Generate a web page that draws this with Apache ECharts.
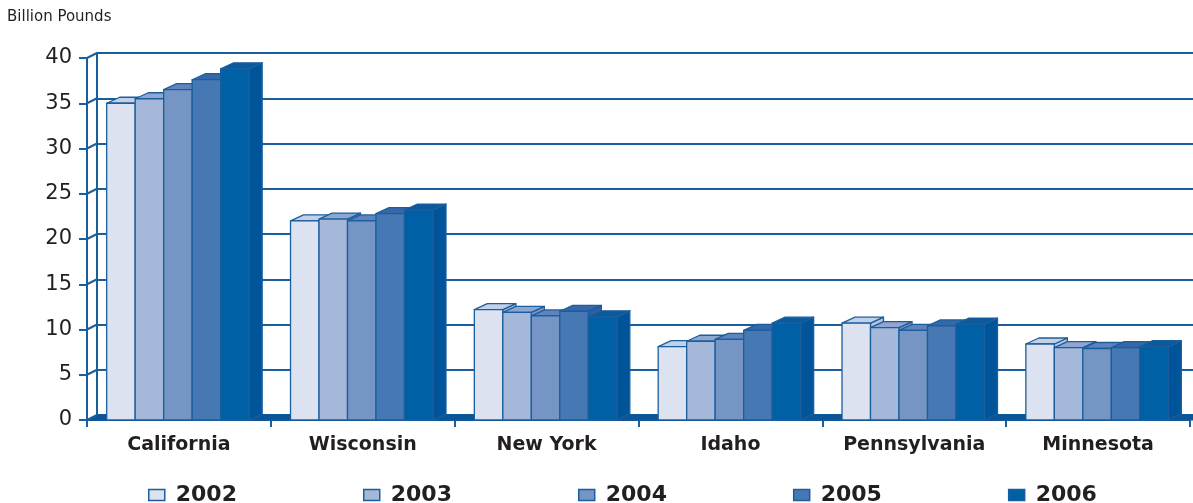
<!DOCTYPE html>
<html>
<head>
<meta charset="utf-8">
<script src="https://cdn.jsdelivr.net/npm/echarts@6/dist/echarts.min.js"></script>
<style>
html,body{margin:0;padding:0;background:#fff;}
#chart{width:1193px;height:503px;}
</style>
</head>
<body>
<div id="chart"></div>
<script>
var categories = ['California', 'Wisconsin', 'New York', 'Idaho', 'Pennsylvania', 'Minnesota'];
var years = ['2002', '2003', '2004', '2005', '2006'];
var y2002 = [35.0, 22.0, 12.2, 8.1, 10.7, 8.4];
var y2003 = [35.5, 22.2, 11.9, 8.7, 10.2, 8.0];
var y2004 = [36.5, 22.0, 11.5, 8.9, 9.9, 7.9];
var y2005 = [37.6, 22.8, 12.0, 9.9, 10.4, 8.0];
var y2006 = [38.8, 23.2, 11.4, 10.7, 10.6, 8.1];
var yTicks = [0, 5, 10, 15, 20, 25, 30, 35, 40];

var seriesValues = [y2002, y2003, y2004, y2005, y2006];
var frontColors = ['#dce2ef', '#a5b8da', '#7596c4', '#4679b3', '#0060a5'];
var topColors = ['#c3d0e7', '#8ea6d0', '#5f84bb', '#3468a8', '#0a5a9c'];
var sideColors = ['#b3c3e0', '#8099c8', '#5578b0', '#2f5f9c', '#00549a'];
var lineBlue = '#1b5e9e';
var textColor = '#231f20';
var FONT = 'DejaVu Sans';

var DX = 13, DY = -6;     // bar depth
var WX = 10, WY = -5;     // wall depth

function barRender(k) {
  return function (params, api) {
    var ci = api.value(0), v = api.value(1);
    var top = api.coord([ci, v]);
    var base = api.coord([ci, 0]);
    var cw = api.size([1, 0])[0];
    var bw = cw * 0.155;
    var x0 = top[0] - 2.5 * bw - 1 + k * bw;
    var x1 = x0 + bw;
    var yt = top[1], yb = base[1];
    var st = {stroke: lineBlue, lineWidth: 1.3, lineJoin: 'round'};
    return {
      type: 'group',
      children: [
        {type: 'polygon', shape: {points: [[x1, yt], [x1 + DX, yt + DY], [x1 + DX, yb + DY], [x1, yb]]},
          style: Object.assign({fill: sideColors[k]}, st)},
        {type: 'polygon', shape: {points: [[x0, yt], [x0 + DX, yt + DY], [x1 + DX, yt + DY], [x1, yt]]},
          style: Object.assign({fill: topColors[k]}, st)},
        {type: 'rect', shape: {x: x0, y: yt, width: bw, height: yb - yt},
          style: Object.assign({fill: frontColors[k]}, st)}
      ]
    };
  };
}

var series = [];
// floor
series.push({
  type: 'custom', xAxisIndex: 0, yAxisIndex: 0, silent: true, z: 1,
  data: [[0, 0]],
  renderItem: function (params, api) {
    var cs = params.coordSys;
    var y = api.coord([0, 0])[1];
    var xa = cs.x, xb = cs.x + cs.width + 3;
    return {
      type: 'polygon',
      shape: {points: [[xa, y], [xa + WX, y + WY], [xb, y + WY], [xb, y]]},
      style: {fill: '#0b5597', stroke: '#0b5597', lineWidth: 1}
    };
  }
});
// side wall diagonals
series.push({
  type: 'custom', xAxisIndex: 0, yAxisIndex: 0, silent: true, z: 1,
  data: yTicks.map(function (t) { return [0, t]; }),
  renderItem: function (params, api) {
    var cs = params.coordSys;
    var y = api.coord([0, api.value(1)])[1];
    return {
      type: 'line',
      shape: {x1: cs.x, y1: y, x2: cs.x + WX, y2: y + WY},
      style: {stroke: lineBlue, lineWidth: 2}
    };
  }
});
years.forEach(function (yr, k) {
  series.push({
    name: yr,
    type: 'custom',
    xAxisIndex: 0, yAxisIndex: 0,
    z: 3 + k,
    itemStyle: {color: frontColors[k], borderColor: lineBlue, borderWidth: 1.5},
    data: seriesValues[k].map(function (v, i) { return [i, v]; }),
    renderItem: barRender(k)
  });
});

var chart = echarts.init(document.getElementById('chart'));
chart.setOption({
  animation: false,
  backgroundColor: '#ffffff',
  title: {
    text: 'Billion Pounds', left: 2, top: 5,
    textStyle: {fontFamily: FONT, fontSize: 15, fontWeight: 'normal', color: textColor}
  },
  legend: {
    left: 143, top: 479,
    itemWidth: 16, itemHeight: 11, itemGap: 126,
    icon: 'rect',
    textStyle: {fontFamily: FONT, fontSize: 22, fontWeight: 'bold', color: textColor, padding: [0, 0, 0, 6]},
    data: years.map(function (yr, k) {
      return {name: yr, itemStyle: {color: frontColors[k], borderColor: lineBlue, borderWidth: 1.5}};
    })
  },
  grid: [
    {left: 87, right: 3, top: 58, bottom: 83},
    {left: 97, right: 0, top: 53, bottom: 88}
  ],
  xAxis: [
    {
      type: 'category', gridIndex: 0, data: categories,
      axisLine: {show: true, lineStyle: {color: lineBlue, width: 2}},
      axisTick: {show: true, interval: 0, length: 7, lineStyle: {color: lineBlue, width: 2}},
      axisLabel: {interval: 0, hideOverlap: false, fontFamily: FONT, fontSize: 19, fontWeight: 'bold', color: textColor, margin: 16},
      splitLine: {show: false}
    },
    {
      type: 'category', gridIndex: 1, data: categories, show: false
    }
  ],
  yAxis: [
    {
      type: 'value', gridIndex: 0, min: 0, max: 40, interval: 5,
      axisLine: {show: true, lineStyle: {color: lineBlue, width: 2}},
      axisTick: {show: true, length: 8, lineStyle: {color: lineBlue, width: 2}},
      axisLabel: {fontFamily: FONT, fontSize: 21, color: textColor, margin: 15},
      splitLine: {show: false}
    },
    {
      type: 'value', gridIndex: 1, min: 0, max: 40, interval: 5,
      axisLine: {show: true, lineStyle: {color: lineBlue, width: 2}},
      axisTick: {show: false},
      axisLabel: {show: false},
      splitLine: {show: true, lineStyle: {color: lineBlue, width: 2}}
    }
  ],
  series: series
});
</script>
</body>
</html>
